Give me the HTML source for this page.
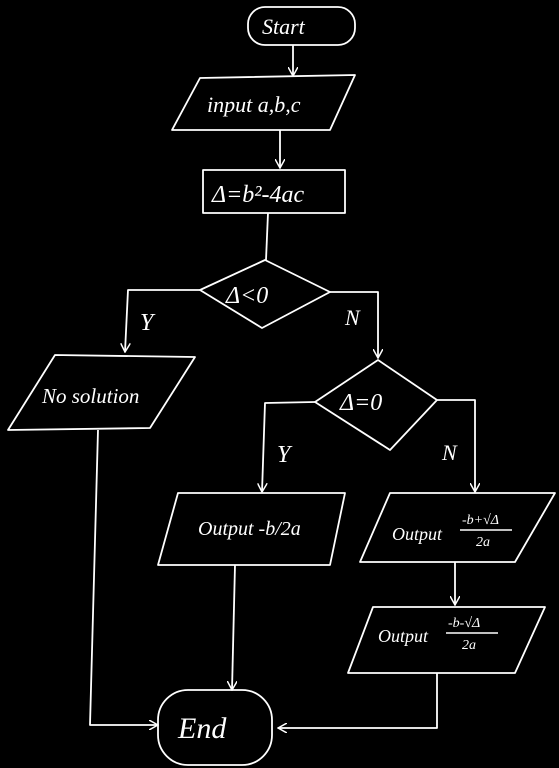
<!DOCTYPE html>
<html><head><meta charset="utf-8"><style>
html,body{margin:0;padding:0;background:#000;width:559px;height:768px;overflow:hidden}
svg{display:block}
text{fill:#fff;font-family:"Liberation Serif",serif;font-style:italic}
</style></head><body>
<svg width="559" height="768" viewBox="0 0 559 768">
<defs><marker id="a" markerWidth="10" markerHeight="10" refX="9" refY="5" orient="auto" markerUnits="userSpaceOnUse"><path d="M0,0 L9,5 L0,10" fill="none" stroke="#fff" stroke-width="1.5"/></marker></defs>
<g fill="none" stroke="#fff" stroke-width="1.8" stroke-linejoin="round">
<rect x="248" y="7" width="107" height="38" rx="17"/>
<line x1="293" y1="45" x2="293" y2="76" marker-end="url(#a)"/>
<polygon points="200,78 355,75 330,130 172,130"/>
<line x1="280" y1="130" x2="280" y2="168" marker-end="url(#a)"/>
<rect x="203" y="170" width="142" height="43"/>
<line x1="268" y1="213" x2="266" y2="260"/>
<polygon points="200,290 265,260 330,292 262,328"/>
<polyline points="200,290 128,290 125,352" marker-end="url(#a)"/>
<polyline points="330,292 378,292 378,358" marker-end="url(#a)"/>
<polygon points="55,355 195,357 150,428 8,430"/>
<polygon points="315,402 378,360 437,400 390,450"/>
<polyline points="315,402 265,403 262,492" marker-end="url(#a)"/>
<polyline points="437,400 475,400 475,492" marker-end="url(#a)"/>
<polygon points="178,493 345,493 330,565 158,565"/>
<polygon points="390,493 555,493 515,562 360,562"/>
<line x1="455" y1="562" x2="455" y2="605" marker-end="url(#a)"/>
<polygon points="373,607 545,607 515,673 348,673"/>
<polyline points="437,673 437,728 278,728" marker-end="url(#a)"/>
<polyline points="235,565 232,690" marker-end="url(#a)"/>
<polyline points="98,430 90,725 158,725" marker-end="url(#a)"/>
<rect x="158" y="690" width="114" height="75" rx="30"/>
</g>
<text x="262" y="34" font-size="22">Start</text>
<text x="207" y="112" font-size="22">input a,b,c</text>
<text x="212" y="202" font-size="24">Δ=b²-4ac</text>
<text x="226" y="303" font-size="24">Δ&lt;0</text>
<text x="140" y="330" font-size="24">Y</text>
<text x="345" y="325" font-size="22">N</text>
<text x="42" y="403" font-size="21">No solution</text>
<text x="340" y="410" font-size="24">Δ=0</text>
<text x="277" y="462" font-size="24">Y</text>
<text x="442" y="460" font-size="22">N</text>
<text x="198" y="535" font-size="20">Output -b/2a</text>
<text x="392" y="540" font-size="18">Output</text>
<text x="462" y="524" font-size="14">-b+√Δ</text>
<line x1="460" y1="530" x2="512" y2="530" stroke="#fff" stroke-width="1.5"/>
<text x="476" y="546" font-size="14">2a</text>
<text x="378" y="642" font-size="18">Output</text>
<text x="448" y="627" font-size="14">-b-√Δ</text>
<line x1="446" y1="633" x2="498" y2="633" stroke="#fff" stroke-width="1.5"/>
<text x="462" y="649" font-size="14">2a</text>
<text x="178" y="738" font-size="30">End</text>
</svg>
</body></html>
